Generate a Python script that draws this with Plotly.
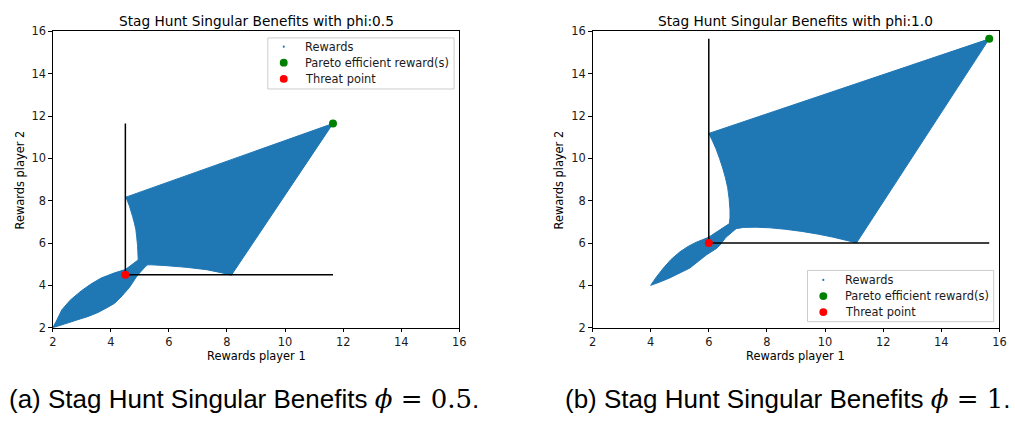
import plotly.graph_objects as go

W, H = 1015, 421

# ---------------- data ----------------
# phi = 0.5 : boundary of the reward region (clockwise from the lower-left tip)
reg05_x = [2.0, 2.12, 2.31, 2.6, 2.99, 3.3, 3.67, 4.13, 4.5, 4.94,
           4.94, 4.93, 4.92, 4.89, 4.86, 4.81, 4.75, 4.64, 4.52,
           11.65,
           8.15, 7.8, 7.3, 6.62, 5.83, 5.4, 5.27, 5.2,
           5.0, 4.86, 4.64, 4.35, 4.13, 3.9, 3.56, 3.22, 2.8, 2.4, 2.0]
reg05_y = [2.0, 2.3, 2.84, 3.3, 3.75, 4.05, 4.35, 4.59, 4.75, 5.2,
           5.3, 5.6, 5.88, 6.3, 6.65, 6.95, 7.25, 7.75, 8.17,
           11.65,
           4.48, 4.6, 4.74, 4.85, 4.94, 4.97, 4.97, 4.9,
           4.6, 4.36, 3.9, 3.45, 3.15, 2.97, 2.72, 2.53, 2.35, 2.17, 2.0]
threat05 = (4.5, 4.5)
pareto05 = (11.65, 11.65)

# phi = 1.0 : boundary of the reward region
reg10_x = [4.0, 4.2, 4.44, 4.7, 5.0, 5.3, 5.57, 5.99, 6.71,
           6.73, 6.73, 6.7, 6.65, 6.57, 6.48, 6.37, 6.25, 6.12, 6.0,
           15.65,
           11.08, 10.79, 10.3, 9.77, 9.2, 8.64, 8.1, 7.62, 7.2, 6.94,
           6.59, 6.37, 6.25, 5.91, 5.35, 4.67, 4.3, 4.0]
reg10_y = [4.0, 4.4, 4.82, 5.22, 5.58, 5.85, 6.04, 6.27, 6.92,
           7.2, 7.56, 8.1, 8.62, 9.1, 9.54, 10.0, 10.45, 10.85, 11.18,
           15.65,
           6.0, 6.11, 6.27, 6.42, 6.55, 6.65, 6.72, 6.75, 6.74, 6.68,
           6.27, 5.88, 5.73, 5.43, 4.82, 4.36, 4.15, 4.0]
threat10 = (6.0, 6.0)
pareto10 = (15.65, 15.65)

ticks = [2, 4, 6, 8, 10, 12, 14, 16]
titles = ["Stag Hunt Singular Benefits with phi:0.5",
          "Stag Hunt Singular Benefits with phi:1.0"]
legend_labels = ["Rewards", "Pareto efficient reward(s)", "Threat point"]
captions = ["(a) Stag Hunt Singular Benefits ", "(b) Stag Hunt Singular Benefits "]
caption_math = ["0.5", "1"]

BLUE = "#1f77b4"
GREEN = "#008000"
RED = "#ff0000"
FONT = "DejaVu Sans"

fig = go.Figure()

panels = [
    (reg05_x, reg05_y, threat05, pareto05, "x", "y"),
    (reg10_x, reg10_y, threat10, pareto10, "x2", "y2"),
]
for rx, ry, thr, par, xa, ya in panels:
    fig.add_trace(go.Scatter(x=rx, y=ry, mode="lines", fill="toself", name="Rewards",
                             fillcolor=BLUE,
                             line=dict(color=BLUE, width=1, simplify=False),
                             showlegend=False, hoverinfo="skip", xaxis=xa, yaxis=ya))
    fig.add_trace(go.Scatter(x=[thr[0], thr[0]], y=[thr[1], par[1]], mode="lines",
                             line=dict(color="black", width=1.5), showlegend=False,
                             xaxis=xa, yaxis=ya))
    fig.add_trace(go.Scatter(x=[thr[0], par[0]], y=[thr[1], thr[1]], mode="lines",
                             line=dict(color="black", width=1.5), showlegend=False,
                             xaxis=xa, yaxis=ya))
    fig.add_trace(go.Scatter(x=[par[0]], y=[par[1]], mode="markers",
                             name="Pareto efficient reward(s)", showlegend=False,
                             marker=dict(color=GREEN, size=8), xaxis=xa, yaxis=ya))
    fig.add_trace(go.Scatter(x=[thr[0]], y=[thr[1]], mode="markers",
                             name="Threat point", showlegend=False,
                             marker=dict(color=RED, size=8), xaxis=xa, yaxis=ya))


def px_x(p):
    return p / W


def px_y(p):
    return 1 - p / H


top, bot = 25.3, 331.7
doms = [(49.3, 460.3), (595.0, 1006.3)]

axis_common = dict(range=[2, 16], tickvals=ticks, ticks="outside", ticklen=3.5,
                   tickwidth=1, tickcolor="black", showline=True, linecolor="black",
                   linewidth=1, mirror=True, showgrid=False, zeroline=False,
                   tickfont=dict(family=FONT, size=11.4, color="#1a1a1a"))

fig.update_layout(
    xaxis=dict(domain=[px_x(doms[0][0]), px_x(doms[0][1])], anchor="y", **axis_common),
    yaxis=dict(domain=[px_y(bot), px_y(top)], anchor="x", **axis_common),
    xaxis2=dict(domain=[px_x(doms[1][0]), px_x(doms[1][1])], anchor="y2", **axis_common),
    yaxis2=dict(domain=[px_y(bot), px_y(top)], anchor="x2", **axis_common),
)

ann = []
shapes = []
for i, (l, r) in enumerate(doms):
    cx = (l + r) / 2
    ann.append(dict(x=px_x(cx), y=px_y(14), xref="paper", yref="paper",
                    text=titles[i], showarrow=False, xanchor="center", yanchor="middle",
                    font=dict(family=FONT, size=13.7, color="black")))
    ann.append(dict(x=px_x(cx), y=px_y(361), xref="paper", yref="paper",
                    text="Rewards player 1", showarrow=False, xanchor="center",
                    yanchor="middle", font=dict(family=FONT, size=11.4, color="black")))
for xc in (16, 561):
    ann.append(dict(x=px_x(xc), y=px_y(178.5), xref="paper", yref="paper",
                    text="Rewards player 2", showarrow=False, textangle=-90,
                    xanchor="center", yanchor="middle",
                    font=dict(family=FONT, size=11.4, color="black")))

# ---- legends (drawn as boxes with keys) ----
legend_boxes = [
    dict(x0=266.7, x1=455.0, y0=32.0, y1=84.8, rows=[41.0, 57.6, 74.4], mx=282.8, tx=302.0),
    dict(x0=812.3, x1=1000.5, y0=272.5, y1=325.5, rows=[282.3, 299.0, 315.6], mx=828.3, tx=847.8),
]
key_colors = [BLUE, GREEN, RED]
key_diam = [2.2, 8.0, 8.0]
for lb in legend_boxes:
    shapes.append(dict(type="rect", xref="paper", yref="paper",
                       x0=px_x(lb["x0"]), x1=px_x(lb["x1"]),
                       y0=px_y(lb["y1"]), y1=px_y(lb["y0"]),
                       line=dict(color="#cccccc", width=1),
                       fillcolor="rgba(255,255,255,0.8)", layer="above"))
    for k, yrow in enumerate(lb["rows"]):
        d = key_diam[k] / 2
        shapes.append(dict(type="circle", xref="paper", yref="paper",
                           x0=px_x(lb["mx"] - d), x1=px_x(lb["mx"] + d),
                           y0=px_y(yrow + d), y1=px_y(yrow - d),
                           line=dict(width=0), fillcolor=key_colors[k], layer="above"))
        ann.append(dict(x=px_x(lb["tx"]), y=px_y(yrow), xref="paper", yref="paper",
                        text=legend_labels[k], showarrow=False, xanchor="left",
                        yanchor="middle",
                        font=dict(family=FONT, size=11.4, color="#1a1a1a")))

# ---- captions ----
cap_cx = [242.5, 792.0]
for i in range(2):
    txt = (captions[i]
           + "<span style=\"font-family:'DejaVu Serif'\"><i>ϕ</i> = "
           + caption_math[i] + "</span>.")
    ann.append(dict(x=px_x(cap_cx[i]), y=px_y(405), xref="paper", yref="paper",
                    text=txt, showarrow=False, xanchor="center", yanchor="middle",
                    font=dict(family="Liberation Sans", size=26, color="black")))

fig.update_layout(
    width=W, height=H, margin=dict(l=0, r=0, t=0, b=0),
    paper_bgcolor="white", plot_bgcolor="white",
    annotations=ann, shapes=shapes, hovermode=False, showlegend=False,
)

fig.write_html("out.html")
